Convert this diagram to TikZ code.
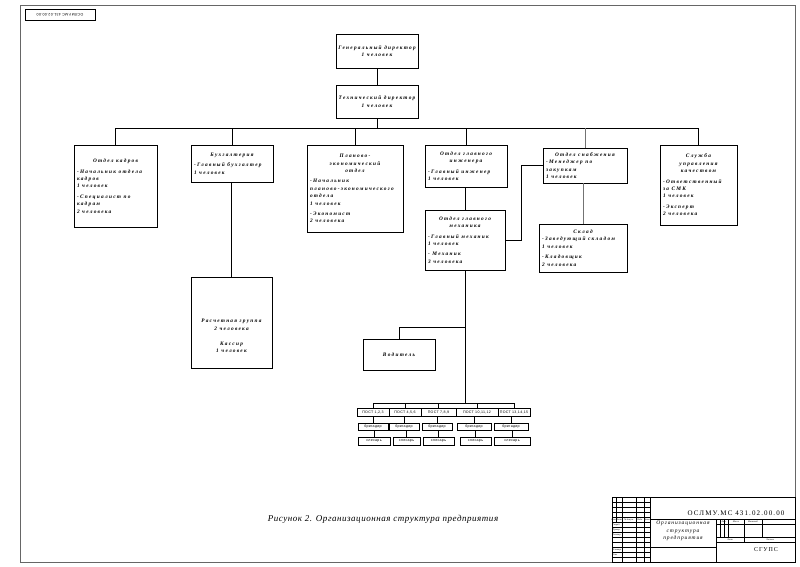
\documentclass[tikz,border=0pt]{standalone}
\usepackage{fontspec}
\setmainfont{Liberation Serif}
\newfontfamily\bxfont[LetterSpace=24]{Liberation Serif}
\newfontfamily\tbfont[LetterSpace=16]{Liberation Serif}
\newfontfamily\capfont[LetterSpace=6]{Liberation Serif}
\newfontfamily\smfont[LetterSpace=8]{Liberation Sans}
\tikzset{
  obox/.style={draw, line width=0.8pt, inner sep=0pt, font=\bxfont\bfseries\itshape\fontsize{5.3}{7.4}\selectfont},
  wire/.style={line width=0.6pt},
  cell/.style={draw, line width=0.5pt, inner sep=0pt, font=\smfont\fontsize{3.6}{4}\selectfont},
  tb/.style={line width=0.35pt},
  tbk/.style={line width=0.8pt},
  tbtext/.style={inner sep=0pt, font=\tbfont\itshape\fontsize{5.5}{7.5}\selectfont, align=center},
  tiny/.style={inner sep=0pt, font=\fontsize{2.3}{2.6}\selectfont\itshape},
}
\newcommand\mkbox[6]{%
  \node[obox, minimum width={#4pt-#2pt}, minimum height={#5pt-#3pt}] (#1) at ({(#2+#4)/2},{(#3+#5)/2})
    {\parbox{\dimexpr #4pt-#2pt-3pt\relax}{#6}};}
\newcommand\mkcell[6]{%
  \node[cell, minimum width={#4pt-#2pt}, minimum height={#5pt-#3pt}] (#1) at ({(#2+#4)/2},{(#3+#5)/2}) {#6};}
\newcommand\gap{\par\vspace{3pt}}
\newcommand\itm{\raggedright\leftskip=1.5pt\relax}
\begin{document}
\begin{tikzpicture}[x=1pt,y=-1pt]
\useasboundingbox (0,0) rectangle (800,566);
% page frame and stamp
\draw[line width=0.4pt, black!60] (20,5) rectangle (795,562);
\draw[line width=0.4pt] (25,9) rectangle (95,20);
\node[rotate=180, inner sep=0pt, font=\smfont\fontsize{3.6}{4}\selectfont] (stamp) at (60,14.5) {ОСЛМУ.МС 431.02.00.00};
% boxes
\mkbox{gd}{336}{34}{418}{68}{\centering Генеральный директор\\1 человек\par}
\mkbox{td}{336}{85}{418}{118}{\centering Технический директор\\1 человек\par}
\mkbox{ok}{74}{145}{157}{227}{\centering Отдел кадров\gap\itm -Начальник отдела\\кадров\\1 человек\gap -Специалист по\\кадрам\\2 человека\par}
\mkbox{bux}{191}{145}{273}{182}{\centering Бухгалтерия\gap\itm -Главный бухгалтер\\1 человек\par}
\mkbox{pl}{307}{145}{403}{232}{\centering Планово-\\экономический\\отдел\gap\itm -Начальник\\планово-экономического\\отдела\\1 человек\gap -Экономист\\2 человека\par}
\mkbox{inzh}{425}{145}{507}{187}{\centering Отдел главного\\инженера\gap\itm -Главный инженер\\1 человек\par}
\mkbox{snab}{543}{148}{627}{183}{\centering Отдел снабжения\par\itm -Менеджер по\\закупкам\\1 человек\par}
\mkbox{smk}{660}{145}{737}{225}{\centering Служба\\управления\\качеством\gap\itm -Ответственный\\за СМК\\1 человек\gap -Эксперт\\2 человека\par}
\mkbox{meh}{425}{210}{505}{270}{\centering Отдел главного\\механика\gap\itm -Главный механик\\1 человек\gap - Механик\\3 человека\par}
\mkbox{skl}{539}{224}{627}{272}{\centering Склад\par\itm -Заведующий складом\\1 человек\gap -Кладовщик\\2 человека\par}
\mkbox{rg}{191}{277}{272}{368}{\vspace*{27pt}\centering Расчетная группа\\2 человека\par\vspace{8pt}Кассир\\1 человек\par}
\mkbox{vod}{363}{339}{435}{370}{\centering Водитель\par}
% posts
\mkcell{p1}{357}{408}{389}{416}{ПОСТ 1,2,3}
\mkcell{p2}{389}{408}{421}{416}{ПОСТ 4,5,6}
\mkcell{p3}{421}{408}{456}{416}{ПОСТ 7,8,9}
\mkcell{p4}{456}{408}{498}{416}{ПОСТ 10,11,12}
\mkcell{p5}{498}{408}{530}{416}{ПОСТ 13,14,15}
\mkcell{b1}{358}{423}{388}{430}{бригадир}
\mkcell{b2}{389}{423}{419}{430}{бригадир}
\mkcell{b3}{422}{423}{452}{430}{бригадир}
\mkcell{b4}{457}{423}{491}{430}{бригадир}
\mkcell{b5}{494}{423}{528}{430}{бригадир}
\mkcell{s1}{358}{437}{390}{445}{слесарь}
\mkcell{s2}{393}{437}{420}{445}{слесарь}
\mkcell{s3}{423}{437}{454}{445}{слесарь}
\mkcell{s4}{460}{437}{491}{445}{слесарь}
\mkcell{s5}{494}{437}{530}{445}{слесарь}
% connectors
\coordinate (busy) at (0,128);
\coordinate (pby) at (0,403);
\draw[wire] (gd.south) -- (td.north);
\draw[wire] (td.south) -- (td.south |- busy);
\draw[wire] (ok.north) -- (ok.north |- busy) -| (smk.north);
\draw[wire] (bux.north) -- (bux.north |- busy);
\draw[wire] (pl.north) -- (pl.north |- busy);
\draw[wire] (inzh.north) -- (inzh.north |- busy);
\draw[wire, black!55] (snab.north) -- (snab.north |- busy);
\draw[wire, black!55] (skl.north) -- (skl.north |- snab.south);
\draw[wire] (meh.north) -- (meh.north |- inzh.south);
\draw[wire] (rg.north) -- (rg.north |- bux.south);
\draw[wire, line width=0.4pt] (snab.west) -- ++(-21,0) |- (meh.east);
\draw[wire] (meh.south) -- (meh.south |- pby);
\draw[wire] (vod.north) -- ++(0,-11) -| (meh.south);
\draw[wire] (p1.north) -- (p1.north |- pby) -| (p5.north);
\foreach \i in {2,3,4} { \draw[wire] (p\i.north) -- (p\i.north |- pby); }
\foreach \i in {1,...,5} {
  \draw[wire] (b\i.north) -- (b\i.north |- p\i.south);
  \draw[wire] (s\i.north) -- (s\i.north |- b\i.south);
}
% caption
\node[inner sep=0pt, font=\capfont\itshape\fontsize{9}{10}\selectfont] (cap) at (383,519) {Рисунок 2. Организационная структура предприятия};
% title block
\draw[tbk] (612,497) rectangle (795,562);
\foreach \y in {502,507,512,517,522,527,532,537,542,547,552,557} { \draw[tb] (612,\y) -- (650,\y); }
\draw[tbk] (612,517) -- (650,517);
\draw[tbk] (612,522) -- (650,522);
\foreach \x in {616,622,636,644} { \draw[tb] (\x,497) -- (\x,522); }
\draw[tb] (622,522) -- (622,562);
\draw[tb] (636,522) -- (636,562);
\draw[tb] (644,522) -- (644,562);
\draw[tbk] (650,497) -- (650,562);
\draw[tbk] (650,519) -- (795,519);
\draw[tbk] (716,519) -- (716,562);
\draw[tb] (650,547) -- (716,547);
\draw[tb] (716,524) -- (795,524);
\draw[tb] (716,537) -- (795,537);
\draw[tbk] (716,542) -- (795,542);
\foreach \x in {720,724,728,744,762} { \draw[tb] (\x,519) -- (\x,537); }
\draw[tb] (744,537) -- (744,542);
\node[tiny] (t1) at (614,519.5) {Изм.};
\node[tiny] (t2) at (619,519.5) {Лист};
\node[tiny] (t3) at (629,519.5) {№ докум.};
\node[tiny] (t4) at (640,519.5) {Подп.};
\node[tiny] (t5) at (647,519.5) {Дата};
\node[tiny, anchor=west] (r1) at (612.5,524.5) {Разраб.};
\node[tiny, anchor=west] (r2) at (612.5,529.5) {Провер.};
\node[tiny, anchor=west] (r3) at (612.5,534.5) {Т.контр.};
\node[tiny, anchor=west] (r4) at (612.5,549.5) {Н.контр.};
\node[tiny, anchor=west] (r5) at (612.5,554.5) {Утв.};
\node[tiny] (l1) at (724,521.5) {Лит.};
\node[tiny] (l2) at (736,521.5) {Масса};
\node[tiny] (l3) at (753,521.5) {Масштаб};
\node[tiny] (l4) at (730,539.5) {Лист};
\node[tiny] (l5) at (770,539.5) {Листов};
\node[tbtext, font=\tbfont\fontsize{7}{8}\selectfont] (code) at (736,513) {ОСЛМУ.МС 431.02.00.00};
\node[tbtext] (title) at (683,531) {Организационная\\структура\\предприятия};
\node[tbtext, font=\tbfont\fontsize{6}{7}\selectfont] (org) at (766,550) {СГУПС};
\end{tikzpicture}
\end{document}
